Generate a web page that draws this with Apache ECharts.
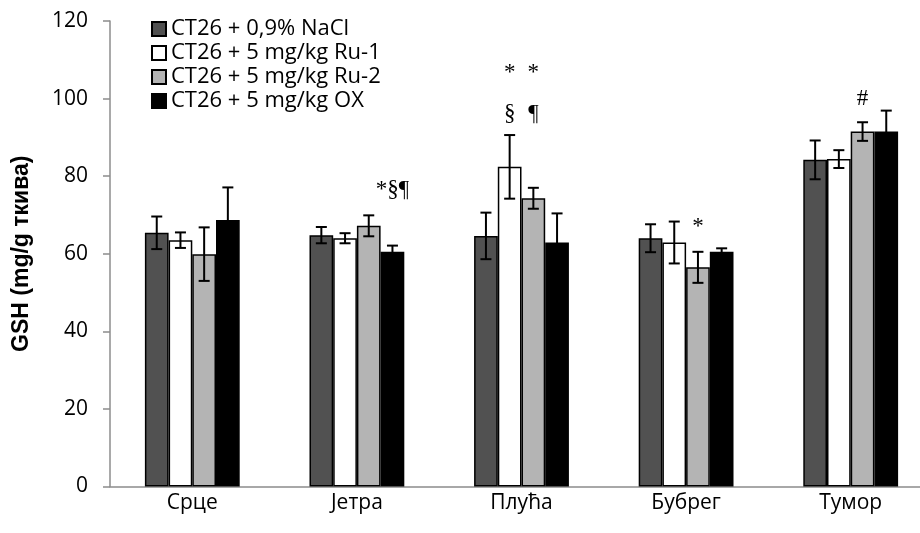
<!DOCTYPE html>
<html>
<head>
<meta charset="utf-8">
<script src="https://cdn.jsdelivr.net/npm/echarts@6/dist/echarts.min.js"></script>
<style>
  html, body { margin: 0; padding: 0; background: #fff; overflow: hidden; }
  #chart { width: 933px; height: 533px; }
</style>
</head>
<body>
<div id="chart"></div>
<script>
// Tissue groups on the category axis
var categories = ['Срце', 'Јетра', 'Плућа', 'Бубрег', 'Тумор'];

// Treatment groups
var seriesNames = [
  'CT26 + 0,9% NaCl',
  'CT26 + 5 mg/kg Ru-1',
  'CT26 + 5 mg/kg Ru-2',
  'CT26 + 5 mg/kg OX'
];
var seriesColors = ['#515151', '#ffffff', '#b4b4b4', '#000000'];

// Mean GSH (mg/g tissue) per treatment, in category order
var nacl = [65.4, 64.8, 64.6, 64.0, 84.2];
var ru1  = [63.5, 64.0, 82.4, 62.9, 84.4];
var ru2  = [59.9, 67.2, 74.3, 56.5, 91.5];
var ox   = [68.7, 60.5, 62.9, 60.5, 91.5];

// Standard deviations
var naclErr = [4.2, 2.1, 6.0, 3.6, 5.0];
var ru1Err  = [2.0, 1.3, 8.2, 5.4, 2.3];
var ru2Err  = [6.9, 2.7, 2.7, 4.0, 2.4];
var oxErr   = [8.4, 1.6, 7.5, 0.9, 5.4];

// Significance marks: category index, treatment index, height on the value axis, symbol
var markCategory = [1, 2, 2, 2, 2, 3, 4];
var markSeries   = [3, 1, 2, 1, 2, 2, 2];
var markHeight   = [76.4, 106.6, 106.6, 96.0, 96.0, 66.8, 100.0];
var markText     = ['*§¶', '*', '*', '§', '¶', '*', '#'];

// Y-axis ticks
var yMin = 0, yMax = 120, yStep = 20;

var BAR_FRACTION = 0.144;   // bar width relative to one category band

var means = [nacl, ru1, ru2, ox];
var errs = [naclErr, ru1Err, ru2Err, oxErr];

var barSeries = seriesNames.map(function (name, i) {
  return {
    name: name,
    type: 'bar',
    data: means[i],
    barWidth: (BAR_FRACTION * 100) + '%',
    barGap: '0%',
    itemStyle: { color: seriesColors[i], borderColor: '#000', borderWidth: 1.5 },
    emphasis: { disabled: true }
  };
});

var errData = [];
errs.forEach(function (arr, s) {
  arr.forEach(function (e, c) { errData.push([c, s, means[s][c], e]); });
});

var markData = markText.map(function (t, k) {
  return [markCategory[k], markSeries[k], markHeight[k], k];
});

// pixel position of bar s inside category cat at value val
function barX(api, cat, s, val) {
  var bw = api.size([1, 0])[0] * BAR_FRACTION;
  var p = api.coord([cat, val]);
  return [p[0] + (s - 1.5) * bw, p[1]];
}

var errSeries = {
  type: 'custom',
  name: 'err',
  data: errData,
  encode: { x: 0, y: 2 },
  z: 5,
  silent: true,
  renderItem: function (params, api) {
    var c = api.value(0), s = api.value(1), m = api.value(2), e = api.value(3);
    var top = barX(api, c, s, m + e);
    var bot = barX(api, c, s, m - e);
    var x = top[0], cap = 5.5;
    var st = { stroke: '#000', lineWidth: 2 };
    return {
      type: 'group',
      children: [
        { type: 'line', shape: { x1: x, y1: top[1], x2: x, y2: bot[1] }, style: st },
        { type: 'line', shape: { x1: x - cap, y1: top[1], x2: x + cap, y2: top[1] }, style: st },
        { type: 'line', shape: { x1: x - cap, y1: bot[1], x2: x + cap, y2: bot[1] }, style: st }
      ]
    };
  }
};

var markSeriesDef = {
  type: 'custom',
  name: 'marks',
  data: markData,
  encode: { x: 0, y: 2 },
  z: 6,
  silent: true,
  renderItem: function (params, api) {
    var p = barX(api, api.value(0), api.value(1), api.value(2));
    return {
      type: 'text',
      x: p[0], y: p[1],
      style: {
        text: markText[api.value(3)],
        fill: '#000',
        font: '23px "Liberation Serif", "Times New Roman", serif',
        align: 'center',
        verticalAlign: 'middle'
      }
    };
  }
};

var chart = echarts.init(document.getElementById('chart'), null, { renderer: 'canvas' });
chart.setOption({
  animation: false,
  backgroundColor: '#fff',
  textStyle: { fontFamily: '"Open Sans", sans-serif' },
  grid: { left: 110, top: 21, right: 0, bottom: 46.5 },
  legend: {
    data: seriesNames,
    orient: 'vertical',
    left: 146,
    top: 13,
    itemWidth: 14,
    itemHeight: 14,
    itemGap: 2,
    icon: 'rect',
    selectedMode: false,
    textStyle: { fontSize: 22, color: '#000', fontFamily: '"Open Sans", sans-serif' }
  },
  xAxis: {
    type: 'category',
    data: categories,
    axisLine: { lineStyle: { color: '#8c8c8c', width: 1.5 } },
    axisTick: { show: false },
    axisLabel: { fontSize: 21, color: '#000', margin: 6 }
  },
  yAxis: {
    type: 'value',
    min: yMin, max: yMax, interval: yStep,
    name: 'GSH (mg/g ткива)',
    nameLocation: 'middle',
    nameGap: 77,
    nameRotate: 90,
    nameTextStyle: { fontSize: 23, fontWeight: 'bold', color: '#000', fontFamily: '"Liberation Sans", Arial, sans-serif' },
    axisLine: { show: true, lineStyle: { color: '#8c8c8c', width: 1.5 } },
    axisTick: { show: true, length: 7, lineStyle: { color: '#8c8c8c', width: 1.5 } },
    splitLine: { show: false },
    axisLabel: { fontSize: 21, color: '#000', margin: 22 }
  },
  series: barSeries.concat([errSeries, markSeriesDef])
});
</script>
</body>
</html>
